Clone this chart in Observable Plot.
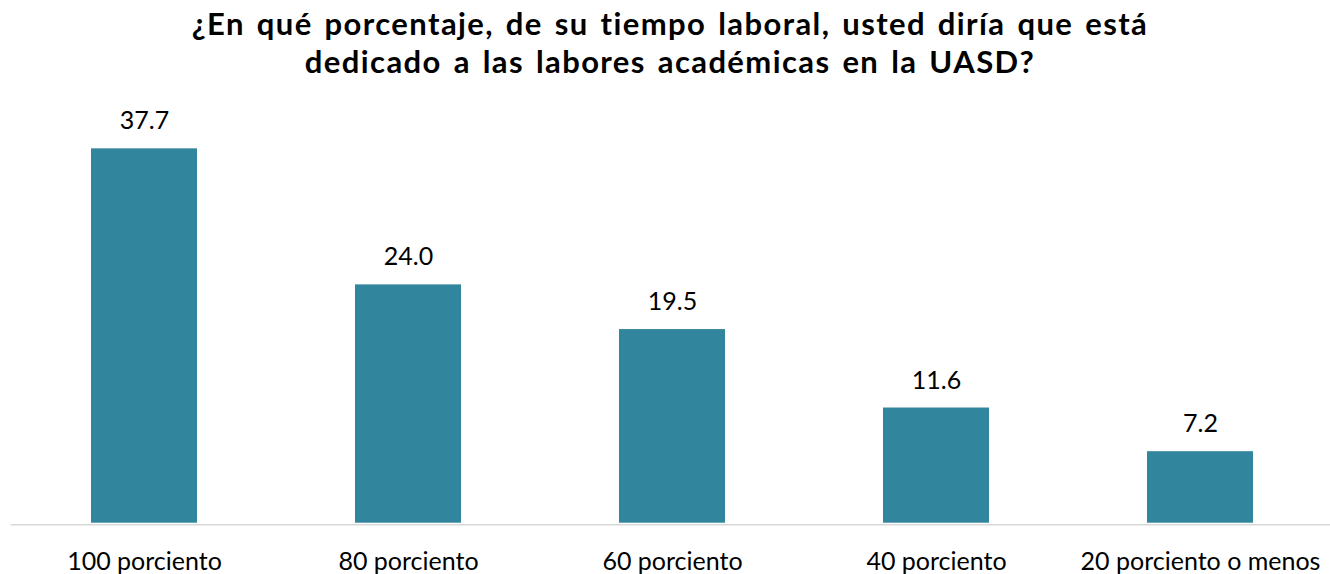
<!DOCTYPE html>
<html>
<head>
<meta charset="utf-8">
<script src="https://cdn.jsdelivr.net/npm/d3@7"></script>
<script src="https://cdn.jsdelivr.net/npm/@observablehq/plot@0.6"></script>
<style>
  html, body { margin: 0; padding: 0; background: #fff; }
  #title {
    width: 1330px; height: 92px; box-sizing: border-box;
    padding-top: 4px; padding-left: 10px;
    font-family: Lato, "Open Sans", sans-serif; font-weight: 700;
    font-size: 31px; line-height: 38px; letter-spacing: 1.4px; word-spacing: 3px;
    text-align: center; color: #000;
  }
  #chart svg { display: block; }
</style>
</head>
<body>
<div id="title">¿En qué porcentaje, de su tiempo laboral, usted diría que está<br>dedicado a las labores académicas en la UASD?</div>
<div id="chart"></div>
<script>
const categories = ["100 porciento", "80 porciento", "60 porciento", "40 porciento", "20 porciento o menos"];
const values = [37.7, 24.0, 19.5, 11.6, 7.2];

const data = categories.map((c, i) => ({category: c, value: values[i]}));

const chart = Plot.plot({
  width: 1330,
  height: 482,
  marginLeft: 10.75,
  marginRight: -3.25,
  marginTop: 33.5,
  marginBottom: 51.3,
  style: {fontFamily: "Lato, 'Open Sans', sans-serif", background: "#fff"},
  x: {domain: categories, paddingInner: 0.6, paddingOuter: 0.3, axis: null},
  y: {domain: [0, 40], axis: null},
  marks: [
    Plot.barY(data, {x: "category", y: "value", fill: "#31859C"}),
    Plot.ruleY([0], {stroke: "#d9d9d9", strokeWidth: 1.5, dy: 1.5}),
    Plot.text(data, {x: "category", y: "value", text: d => d.value.toFixed(1), dy: -27.5, fontSize: 25, fill: "#000"}),
    Plot.text(data, {x: "category", y: 0, text: "category", dy: 39, fontSize: 25, fill: "#000"})
  ]
});
document.getElementById("chart").appendChild(chart);
</script>
</body>
</html>
